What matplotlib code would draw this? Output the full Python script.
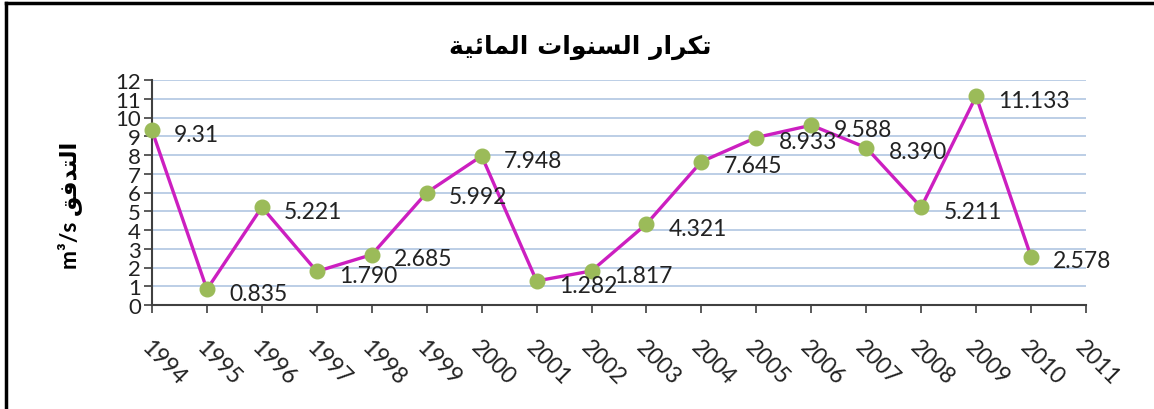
import matplotlib
matplotlib.use('Agg')
import matplotlib.pyplot as plt
from matplotlib.lines import Line2D

years = [1994, 1995, 1996, 1997, 1998, 1999, 2000, 2001, 2002, 2003,
         2004, 2005, 2006, 2007, 2008, 2009, 2010]
flow = [9.31, 0.835, 5.221, 1.790, 2.685, 5.992, 7.948, 1.282, 1.817, 4.321,
        7.645, 8.933, 9.588, 8.390, 5.211, 11.133, 2.578]
labels = ['9.31', '0.835', '5.221', '1.790', '2.685', '5.992', '7.948', '1.282',
          '1.817', '4.321', '7.645', '8.933', '9.588', '8.390', '5.211',
          '11.133', '2.578']
tick_years = list(range(1994, 2012))

# arabic text written in presentation forms, visual (left to right) order
title_txt = ('\uFE94\uFEF4\uFE8B\uFE8E\uFEE4\uFEDF\uFE8D '
             '\uFE95\uFE8D\uFEEE\uFEE8\uFEB4\uFEDF\uFE8D '
             '\uFEAD\uFE8D\uFEAE\uFEDC\uFE97')
ylab_ar = '\uFED6\uFED3\uFEAA\uFE98\uFEDF\uFE8D'

plt.rcParams['font.family'] = ['Lato', 'DejaVu Sans']

fig = plt.figure(figsize=(11.54, 4.10), dpi=100)
ax = fig.add_axes([152/1154, 1 - 306/410, (1086 - 152)/1154, (306 - 81)/410])

ax.plot(years, flow, color='#CC1FC0', lw=2.4, marker='o', ms=10.5,
        mfc='#9BBB59', mec='#9BBB59', zorder=3, clip_on=False)
for x, y, t in zip(years, flow, labels):
    ax.annotate(t, (x, y), xytext=(16, -3), textcoords='offset points',
                ha='left', va='center', fontsize=16.5, color='#222222')

ax.set_xlim(1994, 2011)
ax.set_ylim(0, 12)
ax.set_yticks(range(0, 13))
ax.set_xticks(tick_years)
ax.set_yticklabels([str(v) for v in range(13)], fontsize=16, color='#222222')
ax.set_xticklabels([str(v) for v in tick_years], fontsize=16.5, color='#222222',
                   rotation=-45, ha='left', va='top', rotation_mode='anchor')
ax.tick_params(axis='y', length=6, width=1.2, color='#404040', pad=2)
ax.tick_params(axis='x', length=6, width=1.2, color='#404040', pad=16)
ax.yaxis.grid(True, color='#A9C1DF', lw=1.1)
ax.set_axisbelow(True)
for s in ['top', 'right']:
    ax.spines[s].set_visible(False)
for s in ['left', 'bottom']:
    ax.spines[s].set_color('#404040')
    ax.spines[s].set_linewidth(1.5)

fig.text(0.503, 0.885, title_txt, ha='center', va='center', fontsize=18,
         fontweight='bold', family='DejaVu Sans')
fig.text(0.060, 0.50, 'm\u00b3/s ' + ylab_ar, ha='center', va='center',
         rotation=90, fontsize=16.5, fontweight='bold', family=['Lato', 'DejaVu Sans'])

# black frame lines at top and left
fig.add_artist(Line2D([0.005, 1], [0.990, 0.990], color='black', lw=2.5,
                      transform=fig.transFigure))
fig.add_artist(Line2D([0.0055, 0.0055], [0, 0.990], color='black', lw=2.5,
                      transform=fig.transFigure))

fig.savefig('out.png', dpi=100)
